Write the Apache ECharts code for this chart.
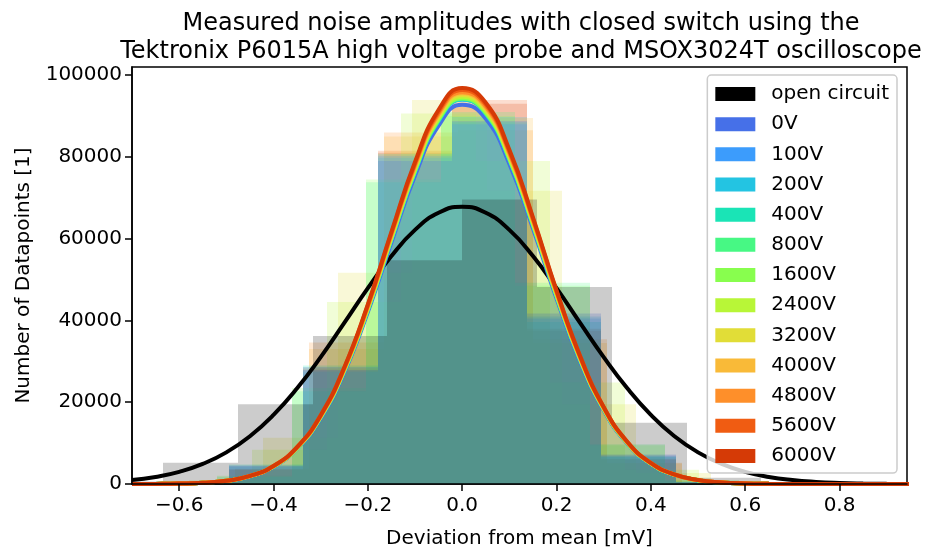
<!DOCTYPE html>
<html>
<head>
<meta charset="utf-8">
<script src="https://cdn.jsdelivr.net/npm/echarts@6/dist/echarts.min.js"></script>
<style>html,body{margin:0;padding:0;background:#fff;}#c{width:926px;height:549px;}</style>
</head>
<body>
<div id="c"></div>
<script>
// ---- data ----
const seriesNames = ['open circuit','0V','100V','200V','400V','800V','1600V','2400V','3200V','4000V','4800V','5600V','6000V'];
const seriesColors = ['#000000','#4670e8','#3c9cfc','#23c4e2','#1ae4b6','#47f884','#88fe4e','#b8f637','#e1dd37','#f9ba38','#fe8f2a','#f05c12','#d53a06'];

const xTicks = [-0.6,-0.4,-0.2,0.0,0.2,0.4,0.6,0.8];
const yTicks = [0,20000,40000,60000,80000,100000];

// histogram bin edges (mV)
const edgesOpen = [-0.792,-0.634,-0.476,-0.317,-0.159,0.000,0.158,0.317,0.476,0.634];
const edgesA = [-0.677,-0.519,-0.361,-0.203,-0.045,0.113,0.271,0.429,0.587];
const edgesB = [-0.653,-0.495,-0.337,-0.179,-0.021,0.137,0.295,0.453,0.611];
const edgesC = [-0.640,-0.482,-0.324,-0.166,-0.008,0.150,0.308,0.466,0.624];
const edgesD = [-0.603,-0.445,-0.287,-0.129,0.029,0.187,0.345,0.503];
const edgesE = [-0.580,-0.422,-0.264,-0.106,0.053,0.211,0.369,0.527];

// histogram counts per series
const countsOpen  = [600,5200,19500,36200,54700,69600,48200,15000,1500];
const counts0V    = [300,4400,27900,79000,88800,41700,7200,500];
const counts100V  = [350,4600,28600,80300,88000,40500,7000,450];
const counts200V  = [300,4200,27500,79800,89800,41000,6800,400];
const counts400V  = [400,4800,29000,80800,88500,39600,6600,400];
const counts800V  = [150,1800,22700,73800,91000,49200,9700,800];
const counts1600V = [200,2000,23500,74500,90000,48500,9500,900];
const counts2400V = [700,8400,44500,90600,79000,24800,3500];
const counts3200V = [900,11300,51700,93900,71700,19500,2700];
const counts4000V = [400,3500,33000,85000,89500,34500,5000,300];
const counts4800V = [350,3700,34600,86000,86500,35400,5200,250];
const counts5600V = [300,3500,28000,81500,93900,38000,6000,300];
const counts6000V = [300,3600,28500,81000,93000,37500,6200,300];

const seriesEdges = [edgesOpen,edgesB,edgesB,edgesB,edgesB,edgesA,edgesA,edgesD,edgesE,edgesC,edgesC,edgesB,edgesB];
const seriesCounts = [countsOpen,counts0V,counts100V,counts200V,counts400V,counts800V,counts1600V,counts2400V,counts3200V,counts4000V,counts4800V,counts5600V,counts6000V];

// fitted curves
const fitX = [-0.70,-0.65,-0.60,-0.55,-0.50,-0.45,-0.40,-0.35,-0.30,-0.25,-0.20,-0.15,-0.10,-0.05,0.00,0.05,0.10,0.15,0.20,0.25,0.30,0.35,0.40,0.45,0.50,0.55,0.60,0.65,0.70,0.75,0.80,0.85,0.90,0.95];
const fitOpen = [964,1730,2980,4910,7740,11690,16910,23410,31040,39410,47910,55770,62160,66340,67800,66340,62160,55770,47910,39410,31040,23410,16910,11690,7740,4910,2980,1730,964,514,262,128,60,27];
// normalised profile of the voltage fits, and each fit's peak height
const fitShape = [0.0001,0.0003,0.0010,0.0030,0.0082,0.0203,0.0456,0.0933,0.1736,0.2942,0.4535,0.6363,0.8126,0.9447,0.9995,0.9626,0.8438,0.6732,0.4889,0.3232,0.1944,0.1065,0.0531,0.0241,0.0099,0.0037,0.0013,0.0004,0.0001,0,0,0,0,0];
const fitPeaks = [92800,94100,94100,94200,94300,94400,94800,95200,95600,95900,96400,96900];

// ---- chart ----
const chart = echarts.init(document.getElementById('c'), null, {renderer:'canvas'});
const FONT = 'DejaVu Sans';

function histSeries(i){
  const e = seriesEdges[i], c = seriesCounts[i];
  const data = c.map((v,k)=>[e[k], e[k+1], v]);
  const fill = echarts.color.modifyAlpha(seriesColors[i], 0.2);
  return {
    type:'custom', name: seriesNames[i], z:2,
    itemStyle:{color: seriesColors[i]},
    encode:{x:[0,1], y:2},
    data: data,
    renderItem: function(params, api){
      const p0 = api.coord([api.value(0), api.value(2)]);
      const p1 = api.coord([api.value(1), 0]);
      const x0 = Math.round(p0[0]), x1 = Math.round(p1[0]);
      const shape = echarts.graphic.clipRectByRect(
        {x:x0, y:p0[1], width:x1-x0, height:p1[1]-p0[1]},
        {x:params.coordSys.x, y:params.coordSys.y, width:params.coordSys.width, height:params.coordSys.height});
      if(!shape) return null;
      return {type:'rect', shape: shape, style:{fill: fill}};
    }
  };
}

const series = [];
// histograms are painted from the last series back to the first
for(let i=seriesNames.length-1;i>=0;i--) series.push(histSeries(i));
series.push({
  type:'line', name:'fit open circuit', z:3, smooth:true, showSymbol:false, silent:true,
  lineStyle:{color:'#000', width:4}, data: fitX.map((x,k)=>[x, fitOpen[k]])
});
for(let i=1;i<seriesNames.length;i++){
  const pk = fitPeaks[i-1];
  series.push({
    type:'line', name:'fit '+seriesNames[i], z:3, smooth:true, showSymbol:false, silent:true,
    lineStyle:{color: seriesColors[i], width:4}, data: fitX.map((x,k)=>[x, pk*fitShape[k]])
  });
}

const option = {
  animation:false,
  backgroundColor:'#ffffff',
  textStyle:{fontFamily:FONT},
  title:{
    text:'Measured noise amplitudes with closed switch using the\nTektronix P6015A high voltage probe and MSOX3024T oscilloscope',
    left:516, top:5, textAlign:'center',
    textStyle:{fontFamily:FONT, fontSize:24, fontWeight:'normal', color:'#000', lineHeight:28}
  },
  grid:{left:132, right:19, top:67, bottom:65, outerBoundsMode:'none', containLabel:false,
    show:true, borderColor:'#000', borderWidth:1.5, backgroundColor:'transparent'},
  legend:{
    orient:'vertical', right:29, top:75,
    padding:[9,8,7,8], itemWidth:40, itemHeight:14, itemGap:10.17,
    backgroundColor:'rgba(255,255,255,0.8)', borderColor:'#cccccc', borderWidth:1.5, borderRadius:4,
    textStyle:{fontFamily:FONT, fontSize:20, color:'#000', lineHeight:20, padding:[0,0,0,11]},
    data: seriesNames.map((n,i)=>({name:n, icon:'rect', itemStyle:{color:seriesColors[i], opacity:1}}))
  },
  xAxis:{
    type:'value', min:-0.7, max:0.943, z:10,
    name:'Deviation from mean [mV]', nameLocation:'middle', nameGap:45,
    nameTextStyle:{fontFamily:FONT, fontSize:20, color:'#000'},
    axisLine:{show:true, onZero:false, lineStyle:{color:'#000', width:1.5}},
    axisTick:{show:true, length:7, lineStyle:{color:'#000', width:1.5}, customValues:xTicks},
    axisLabel:{fontFamily:FONT, fontSize:20, color:'#000', margin:12, customValues:xTicks,
      formatter:v=>(v<0?'\u2212':'')+Math.abs(v).toFixed(1)},
    splitLine:{show:false}
  },
  yAxis:{
    type:'value', min:0, max:102000, z:10,
    name:'Number of Datapoints [1]', nameLocation:'middle', nameGap:98,
    nameTextStyle:{fontFamily:FONT, fontSize:20, color:'#000'},
    axisLine:{show:true, onZero:false, lineStyle:{color:'#000', width:1.5}},
    axisTick:{show:true, length:7, lineStyle:{color:'#000', width:1.5}, customValues:yTicks},
    axisLabel:{fontFamily:FONT, fontSize:20, color:'#000', margin:10, customValues:yTicks,
      formatter:v=>String(v)},
    splitLine:{show:false}
  },
  series: series
};
chart.setOption(option);
</script>
</body>
</html>
